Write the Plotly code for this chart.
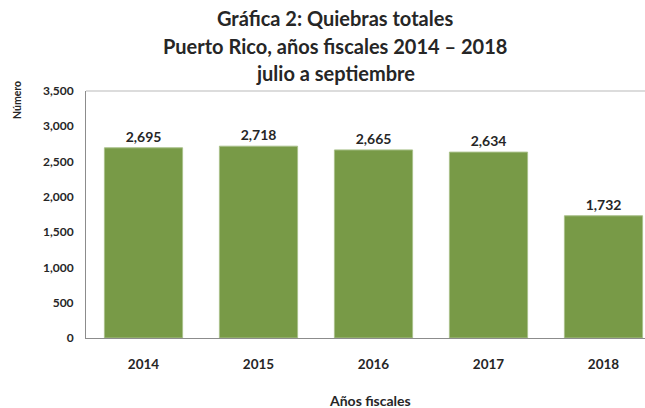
import plotly.graph_objects as go

years = ["2014", "2015", "2016", "2017", "2018"]
quiebras = [2695, 2718, 2665, 2634, 1732]
y_ticks = [0, 500, 1000, 1500, 2000, 2500, 3000, 3500]
y_tick_labels = ["0", "500", "1,000", "1,500", "2,000", "2,500", "3,000", "3,500"]
title_lines = ["Gráfica 2: Quiebras totales",
               "Puerto Rico, años fiscales 2014 – 2018",
               "julio a septiembre"]

FONT = "Lato"
TXT = "#262626"
W, H = 645, 408
L, T, BOT = 86, 91, 338
PW, PH = W - L, BOT - T


def px(x):
    return (x - L) / PW


def py(y):
    return (BOT - y) / PH


fig = go.Figure(go.Bar(
    x=list(range(len(years))), y=quiebras,
    width=0.68,
    marker=dict(color="#789a47", line=dict(color="#a9c08a", width=1)),
    text=[f"<b>{v:,}</b>" for v in quiebras], textposition="outside",
    textfont=dict(family=FONT, size=14, color=TXT),
    cliponaxis=False,
))

annotations = []
for i, line in enumerate(title_lines):
    annotations.append(dict(
        text=f"<b>{line}</b>", x=px(335), y=py(18 + 27.5 * i), xref="paper", yref="paper",
        xanchor="center", yanchor="middle", showarrow=False,
        font=dict(family=FONT, size=20, color=TXT)))
annotations += [
    dict(text="<b>Años fiscales</b>", x=px(370), y=py(400), xref="paper", yref="paper",
         xanchor="center", yanchor="middle", showarrow=False,
         font=dict(family=FONT, size=14, color=TXT)),
    dict(text="<b>Número</b>", x=px(17), y=py(100), xref="paper", yref="paper",
         xanchor="center", yanchor="middle", showarrow=False, textangle=-90,
         font=dict(family=FONT, size=10.5, color=TXT)),
]

fig.update_layout(
    width=W, height=H,
    margin=dict(l=L, r=0, t=T, b=H - BOT),
    paper_bgcolor="white", plot_bgcolor="white",
    showlegend=False,
    font=dict(family=FONT, color=TXT),
    xaxis=dict(
        range=[-0.5, PW / 115 - 0.5],
        tickvals=list(range(len(years))), ticktext=[f"<b>{y}</b>" for y in years],
        tickfont=dict(family=FONT, size=13.5, color=TXT),
        showline=True, linecolor="#8c8c8c", linewidth=1,
        showgrid=False, zeroline=False, ticks="", ticklabelstandoff=14,
    ),
    yaxis=dict(
        range=[0, 3500],
        tickvals=y_ticks, ticktext=[f"<b>{t}</b>" for t in y_tick_labels],
        tickfont=dict(family=FONT, size=12, color=TXT),
        showline=True, linecolor="#8c8c8c", linewidth=1,
        showgrid=False, zeroline=False, ticks="", ticklabelstandoff=9,
    ),
    shapes=[dict(type="line", xref="paper", yref="paper", x0=0, x1=1, y0=1, y1=1,
                 line=dict(color="#d0d0d0", width=1.5))],
    annotations=annotations,
)

fig.write_html("out.html", config={"displayModeBar": False},
               post_script="document.body.style.margin='0';")
